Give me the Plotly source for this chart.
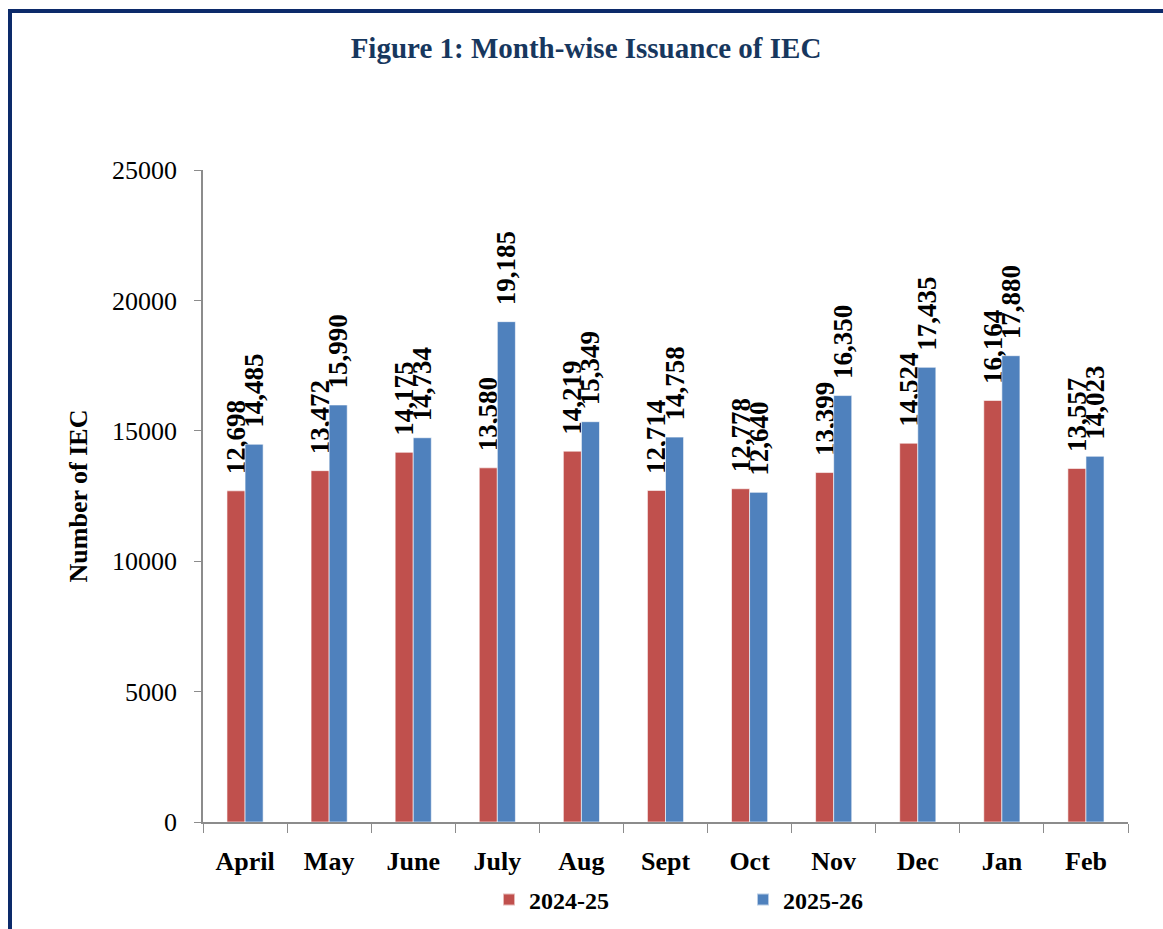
import plotly.graph_objects as go

months = ["April", "May", "June", "July", "Aug", "Sept", "Oct", "Nov", "Dec", "Jan", "Feb"]
fy_2024_25 = [12698, 13472, 14175, 13580, 14219, 12714, 12778, 13399, 14524, 16164, 13557]
fy_2025_26 = [14485, 15990, 14734, 19185, 15349, 14758, 12640, 16350, 17435, 17880, 14023]
y_ticks = [0, 5000, 10000, 15000, 20000, 25000]

SERIF = "Liberation Serif"
W, H = 1163, 929
L, R, T, B = 203, 35, 170, 107
pw, ph = W - L - R, H - T - B

def px_x(x):
    return (x - L) / pw

def px_y(y):
    return (H - B - y) / ph

label_font = dict(family=SERIF, size=27, color="black", weight="bold")

fig = go.Figure()
for name, vals, col in [("2024-25", fy_2024_25, "#C0504D"), ("2025-26", fy_2025_26, "#4F81BD")]:
    fig.add_trace(go.Bar(
        x=months, y=vals, name="<b>" + name + "</b>",
        marker=dict(color=col, line=dict(color="rgba(255,255,255,0.6)", width=1)),
        texttemplate="\u00a0\u00a0%{y:,}", textposition="outside", textangle=-90,
        constraintext="none", cliponaxis=False,
        textfont=label_font, outsidetextfont=label_font,
    ))

fig.update_layout(
    width=W, height=H,
    margin=dict(l=L, r=R, t=T, b=B, autoexpand=False),
    paper_bgcolor="white", plot_bgcolor="white",
    barmode="group", bargap=0.57, bargroupgap=0,
    font=dict(family=SERIF, color="black"),
    title=dict(text="<b>Figure 1: Month-wise Issuance of IEC</b>",
               x=586 / W, xref="container", xanchor="center",
               y=1 - 48 / H, yref="container", yanchor="middle",
               font=dict(family=SERIF, size=29, color="#17375E")),
    xaxis=dict(showline=True, linecolor="#8C8C8C", linewidth=1.5,
               ticks="outside", tickson="boundaries", ticklen=9, tickcolor="#8C8C8C",
               tickfont=dict(family=SERIF, size=26, color="black"), ticklabelstandoff=15,
               tickprefix="<b>", ticksuffix="</b>", showgrid=False),
    yaxis=dict(range=[0, 25000], tickvals=y_ticks, showline=True, linecolor="#8C8C8C", linewidth=1.5,
               ticks="outside", ticklen=7, tickcolor="#8C8C8C", showgrid=False, zeroline=False,
               tickfont=dict(family=SERIF, size=26, color="black"), tickformat="d",
               ticklabelstandoff=12,
               title=dict(text="<b>Number of IEC</b>", font=dict(family=SERIF, size=26, color="black"), standoff=17)),
    legend=dict(orientation="h", x=px_x(489), xanchor="left", y=px_y(900), yanchor="middle",
                entrywidth=209, entrywidthmode="pixels",
                font=dict(family=SERIF, size=24, color="black"), itemsizing="constant",
                traceorder="normal"),
    showlegend=True,
)

fig.add_shape(type="rect", xref="paper", yref="paper",
              x0=px_x(10), x1=px_x(1175), y0=px_y(945), y1=px_y(11),
              line=dict(color="#0C2A6A", width=4), fillcolor="rgba(0,0,0,0)", layer="above")

fig.write_html("out.html", config={"displayModeBar": False},
               post_script="document.body.style.margin='0';")
